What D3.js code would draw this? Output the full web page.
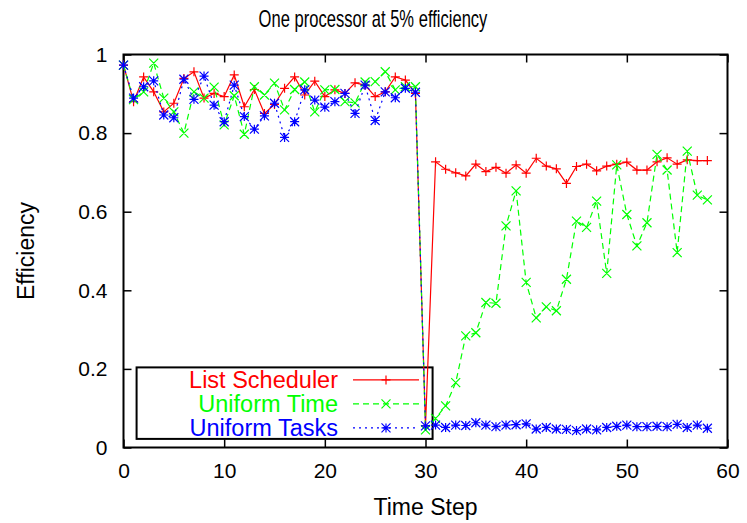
<!DOCTYPE html>
<html>
<head>
<meta charset="utf-8">
<script src="https://cdn.jsdelivr.net/npm/d3@7"></script>
<style>
  body { margin: 0; background: #fff; }
  svg { display: block; font-family: "Liberation Sans", Arial, sans-serif; }
</style>
</head>
<body>
<div id="chart"></div>
<script>
// Time steps and efficiency per scheduler
const steps = [0, 1, 2, 3, 4, 5, 6, 7, 8, 9, 10, 11, 12, 13, 14, 15, 16, 17, 18, 19,
  20, 21, 22, 23, 24, 25, 26, 27, 28, 29, 30, 31, 32, 33, 34, 35, 36, 37, 38, 39,
  40, 41, 42, 43, 44, 45, 46, 47, 48, 49, 50, 51, 52, 53, 54, 55, 56, 57, 58];

const listScheduler = [0.973, 0.88, 0.943, 0.905, 0.854, 0.876, 0.939, 0.956, 0.889, 0.901, 0.893,
  0.948, 0.867, 0.911, 0.85, 0.873, 0.914, 0.943, 0.897, 0.932, 0.893,
  0.91, 0.901, 0.928, 0.922, 0.893, 0.905, 0.943, 0.935, 0.901, 0.055,
  0.727, 0.708, 0.699, 0.691, 0.721, 0.702, 0.713, 0.698, 0.719, 0.698,
  0.736, 0.716, 0.709, 0.672, 0.715, 0.721, 0.704, 0.716, 0.721, 0.726,
  0.706, 0.706, 0.727, 0.737, 0.721, 0.732, 0.73, 0.73];

const uniformTime = [0.973, 0.885, 0.905, 0.978, 0.889, 0.854, 0.8, 0.905, 0.889, 0.917, 0.821,
  0.895, 0.797, 0.918, 0.897, 0.927, 0.859, 0.911, 0.93, 0.854, 0.91,
  0.911, 0.88, 0.877, 0.93, 0.931, 0.956, 0.91, 0.918, 0.918, 0.045,
  0.074, 0.106, 0.165, 0.284, 0.292, 0.369, 0.367, 0.564, 0.653, 0.42,
  0.33, 0.358, 0.348, 0.428, 0.576, 0.56, 0.627, 0.443, 0.719, 0.593,
  0.513, 0.572, 0.746, 0.706, 0.496, 0.754, 0.642, 0.63];

const uniformTasks = [0.973, 0.889, 0.918, 0.933, 0.846, 0.839, 0.937, 0.886, 0.945, 0.871, 0.829,
  0.922, 0.842, 0.81, 0.844, 0.876, 0.789, 0.829, 0.91, 0.884, 0.866,
  0.88, 0.901, 0.85, 0.922, 0.832, 0.905, 0.89, 0.914, 0.904, 0.055,
  0.057, 0.051, 0.057, 0.056, 0.063, 0.057, 0.053, 0.057, 0.058, 0.06,
  0.047, 0.051, 0.047, 0.046, 0.043, 0.047, 0.045, 0.051, 0.054, 0.057,
  0.053, 0.053, 0.054, 0.053, 0.059, 0.051, 0.057, 0.049];

const xTicks = [0, 10, 20, 30, 40, 50, 60];
const yTicks = [0, 0.2, 0.4, 0.6, 0.8, 1];

const seriesNames = ["List Scheduler", "Uniform Time", "Uniform Tasks"];
const seriesColors = ["#ff0000", "#00ff00", "#0000ff"];
const seriesDash = [null, "6,4", "2,4"];
const seriesMarks = ["plus", "cross", "star"];
const seriesValues = [listScheduler, uniformTime, uniformTasks];

const width = 747, height = 523;
const margin = { left: 123.5, right: 19.5, top: 54.5, bottom: 75.5 };
const innerW = width - margin.left - margin.right;
const innerH = height - margin.top - margin.bottom;

const svg = d3.select("#chart").append("svg")
  .attr("width", width)
  .attr("height", height);

const x = d3.scaleLinear().domain([0, 60]).range([0, innerW]);
const y = d3.scaleLinear().domain([0, 1]).range([innerH, 0]);

const g = svg.append("g")
  .attr("transform", `translate(${margin.left},${margin.top})`);

// Title (narrow face in the original, so squeeze it horizontally)
svg.append("text")
  .attr("transform", "translate(373,27) scale(0.72,1)")
  .attr("text-anchor", "middle")
  .style("font-size", "23px")
  .text("One processor at 5% efficiency");

svg.append("text")
  .attr("x", margin.left + innerW / 2).attr("y", 515)
  .attr("text-anchor", "middle")
  .style("font-size", "23px")
  .text("Time Step");

svg.append("text")
  .attr("transform", "translate(34,251) rotate(-90)")
  .attr("text-anchor", "middle")
  .style("font-size", "23px")
  .text("Efficiency");

// Axes with inward ticks on all four sides
const tickLen = 8;
const axisStyle = sel => {
  sel.select(".domain").remove();
  sel.selectAll(".tick line").attr("stroke", "#000").attr("stroke-width", 1.5);
  sel.selectAll(".tick text").style("font-size", "21px").attr("fill", "#000")
    .style("font-family", "'Liberation Sans', Arial, sans-serif");
};

g.append("g")
  .attr("transform", `translate(0,${innerH})`)
  .call(d3.axisBottom(x).tickValues(xTicks).tickFormat(d3.format("d"))
    .tickSizeInner(-tickLen).tickSizeOuter(0).tickPadding(16))
  .call(axisStyle);

g.append("g")
  .call(d3.axisTop(x).tickValues(xTicks).tickFormat("")
    .tickSizeInner(-tickLen).tickSizeOuter(0))
  .call(axisStyle);

g.append("g")
  .call(d3.axisLeft(y).tickValues(yTicks).tickFormat(d => d === 0 || d === 1 ? d3.format("d")(d) : d3.format(".1f")(d))
    .tickSizeInner(-tickLen).tickSizeOuter(0).tickPadding(16))
  .call(axisStyle);

g.append("g")
  .attr("transform", `translate(${innerW},0)`)
  .call(d3.axisRight(y).tickValues(yTicks).tickFormat("")
    .tickSizeInner(-tickLen).tickSizeOuter(0))
  .call(axisStyle);

g.append("rect")
  .attr("width", innerW).attr("height", innerH)
  .attr("fill", "none").attr("stroke", "#000").attr("stroke-width", 2);

// Point marker paths
function markerPath(type, cx, cy, r) {
  const p = d3.path();
  if (type === "plus" || type === "star") {
    p.moveTo(cx - r, cy); p.lineTo(cx + r, cy);
    p.moveTo(cx, cy - r); p.lineTo(cx, cy + r);
  }
  if (type === "cross" || type === "star") {
    p.moveTo(cx - r, cy - r); p.lineTo(cx + r, cy + r);
    p.moveTo(cx - r, cy + r); p.lineTo(cx + r, cy - r);
  }
  return p.toString();
}

// Legend
const legend = g.append("g");
const legendX = x(1.3), legendY = y(0.2) - 1.5;
legend.append("rect")
  .attr("x", legendX).attr("y", legendY)
  .attr("width", 296).attr("height", 71.5)
  .attr("fill", "#fff").attr("stroke", "#000").attr("stroke-width", 2);

seriesNames.forEach((name, i) => {
  const ry = legendY + 12.5 + i * 24;
  legend.append("text")
    .attr("x", 214.5).attr("y", ry + 8)
    .attr("text-anchor", "end")
    .attr("fill", seriesColors[i])
    .style("font-size", "23.5px")
    .text(name);
  legend.append("line")
    .attr("x1", 229.5).attr("x2", 295.5).attr("y1", ry).attr("y2", ry)
    .attr("stroke", seriesColors[i]).attr("stroke-width", 1.2)
    .attr("stroke-dasharray", seriesDash[i]);
  legend.append("path")
    .attr("d", markerPath(seriesMarks[i], 262.5, ry, 4.5))
    .attr("stroke", seriesColors[i]).attr("stroke-width", 1.2);
});

// Series lines and points
const line = d3.line()
  .x(d => x(d[0]))
  .y(d => y(d[1]));

seriesValues.forEach((vals, i) => {
  const pts = steps.map((s, k) => [s, vals[k]]);
  g.append("path")
    .datum(pts)
    .attr("d", line)
    .attr("fill", "none")
    .attr("stroke", seriesColors[i])
    .attr("stroke-width", 1.2)
    .attr("stroke-dasharray", seriesDash[i]);
  g.append("path")
    .attr("d", pts.map(d => markerPath(seriesMarks[i], x(d[0]), y(d[1]), 4.5)).join(""))
    .attr("fill", "none")
    .attr("stroke", seriesColors[i])
    .attr("stroke-width", 1.2);
});
</script>
</body>
</html>
